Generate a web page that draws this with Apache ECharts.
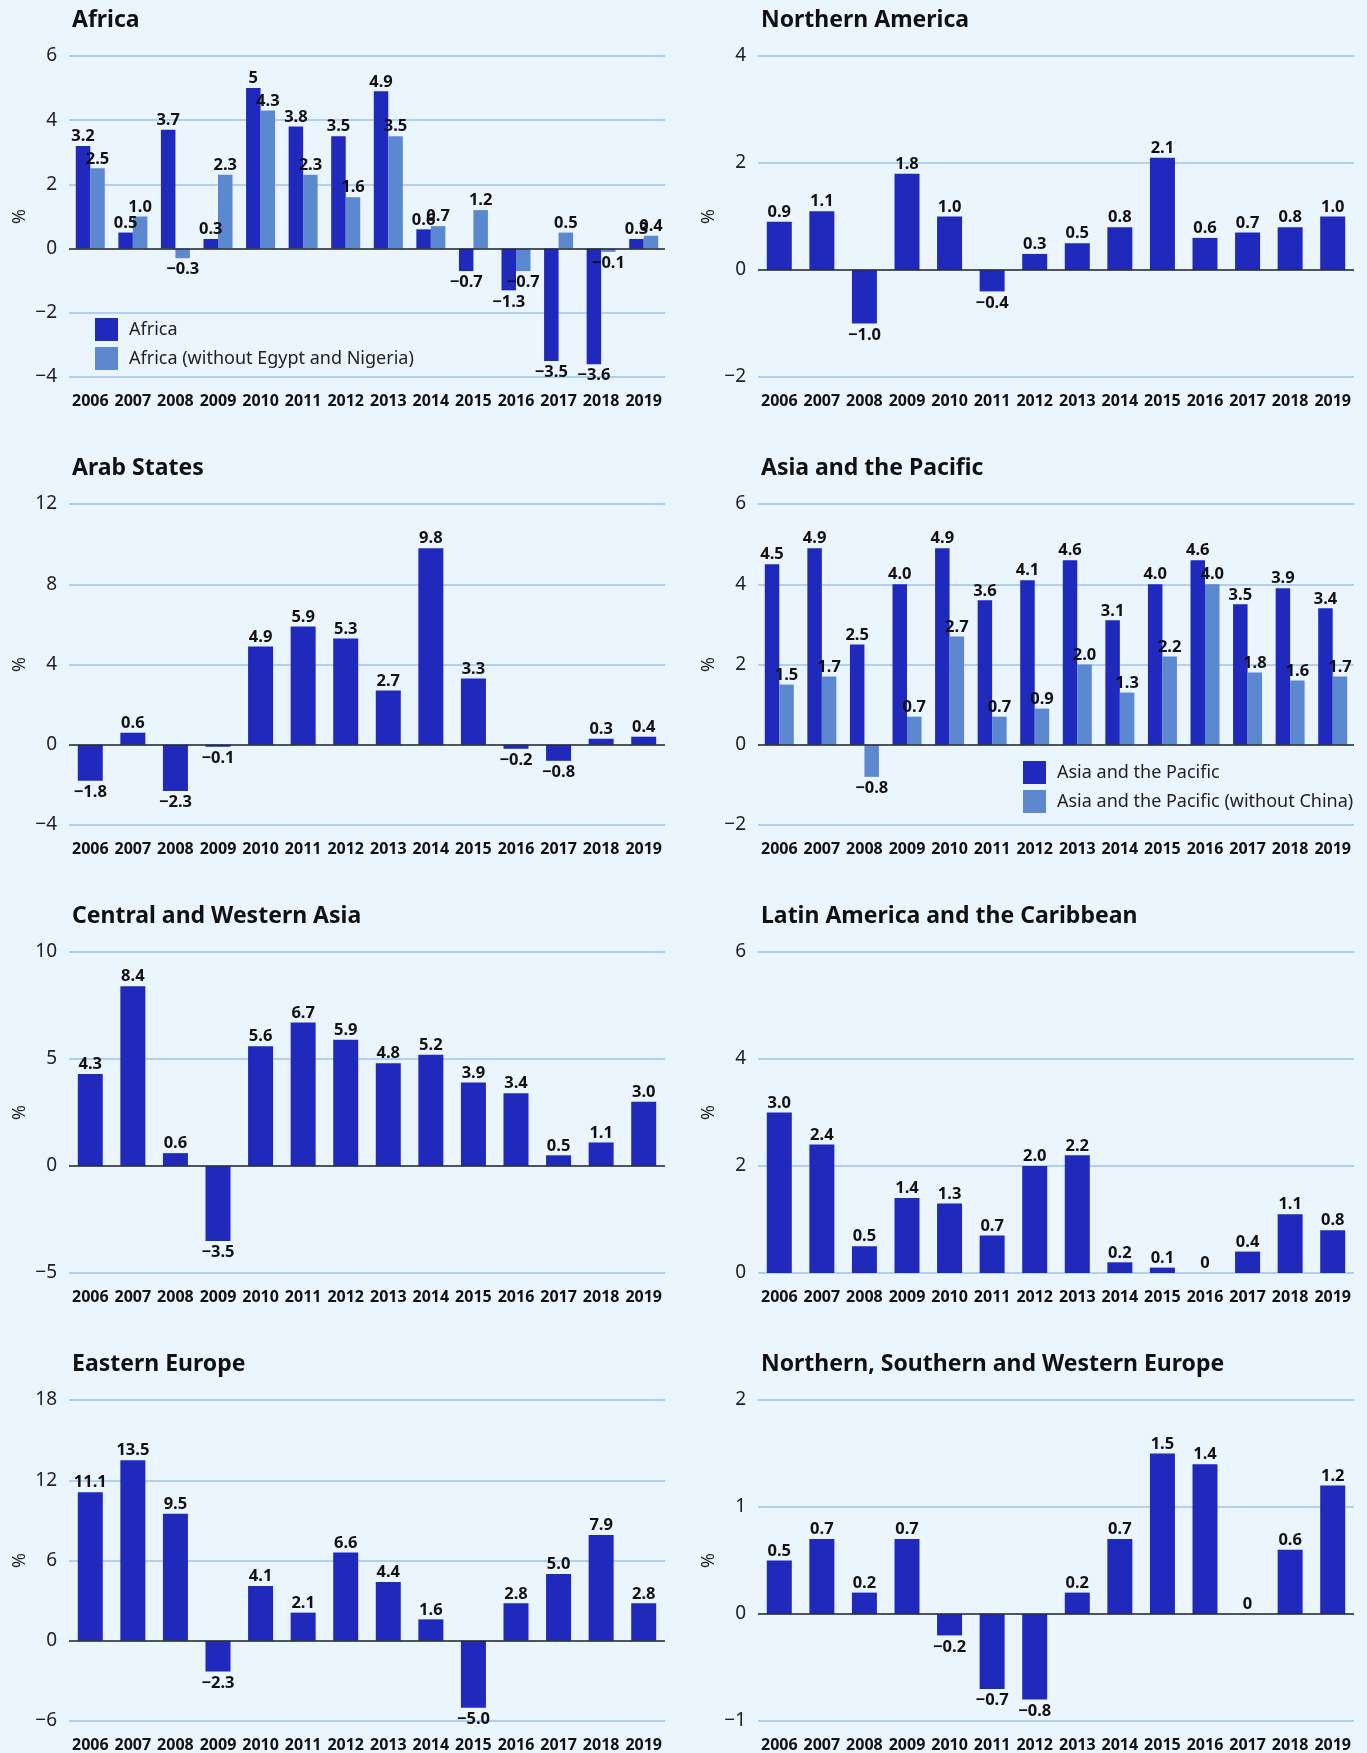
<!DOCTYPE html>
<html>
<head>
<meta charset="utf-8">
<title>Growth by region</title>
<script src="https://cdn.jsdelivr.net/npm/echarts@6/dist/echarts.min.js"></script>
<style>
  html, body { margin: 0; padding: 0; background: #ebf5fe; }
  #chart { width: 1367px; height: 1753px; }
</style>
</head>
<body>
<div id="chart"></div>
<script>
// years on every x axis
const years = ['2006', '2007', '2008', '2009', '2010', '2011', '2012', '2013', '2014', '2015', '2016', '2017', '2018', '2019']

// values kept as text so the labels read exactly like the source ("5", "0", "1.0")
const africa = ['3.2', '0.5', '3.7', '0.3', '5', '3.8', '3.5', '4.9', '0.6', '-0.7', '-1.3', '-3.5', '-3.6', '0.3']
const africaExEgyptNigeria = ['2.5', '1.0', '-0.3', '2.3', '4.3', '2.3', '1.6', '3.5', '0.7', '1.2', '-0.7', '0.5', '-0.1', '0.4']
const northernAmerica = ['0.9', '1.1', '-1.0', '1.8', '1.0', '-0.4', '0.3', '0.5', '0.8', '2.1', '0.6', '0.7', '0.8', '1.0']
const arabStates = ['-1.8', '0.6', '-2.3', '-0.1', '4.9', '5.9', '5.3', '2.7', '9.8', '3.3', '-0.2', '-0.8', '0.3', '0.4']
const asiaPacific = ['4.5', '4.9', '2.5', '4.0', '4.9', '3.6', '4.1', '4.6', '3.1', '4.0', '4.6', '3.5', '3.9', '3.4']
const asiaPacificExChina = ['1.5', '1.7', '-0.8', '0.7', '2.7', '0.7', '0.9', '2.0', '1.3', '2.2', '4.0', '1.8', '1.6', '1.7']
const centralWesternAsia = ['4.3', '8.4', '0.6', '-3.5', '5.6', '6.7', '5.9', '4.8', '5.2', '3.9', '3.4', '0.5', '1.1', '3.0']
const latinAmerica = ['3.0', '2.4', '0.5', '1.4', '1.3', '0.7', '2.0', '2.2', '0.2', '0.1', '0', '0.4', '1.1', '0.8']
const easternEurope = ['11.1', '13.5', '9.5', '-2.3', '4.1', '2.1', '6.6', '4.4', '1.6', '-5.0', '2.8', '5.0', '7.9', '2.8']
const nswEurope = ['0.5', '0.7', '0.2', '0.7', '-0.2', '-0.7', '-0.8', '0.2', '0.7', '1.5', '1.4', '0', '0.6', '1.2']

// y axis ranges: [min, max, interval]
const africaAxis = [-4, 6, 2]
const northernAmericaAxis = [-2, 4, 2]
const arabStatesAxis = [-4, 12, 4]
const asiaPacificAxis = [-2, 6, 2]
const centralWesternAsiaAxis = [-5, 10, 5]
const latinAmericaAxis = [0, 6, 2]
const easternEuropeAxis = [-6, 18, 6]
const nswEuropeAxis = [-1, 2, 1]

const DARK = '#1f2abd'
const LIGHT = '#5b88cf'
const FONT = 'Noto Sans'

const panels = [
  { title: 'Africa', axis: africaAxis, series: [['Africa', africa], ['Africa (without Egypt and Nigeria)', africaExEgyptNigeria]], legend: { left: 95, top: 318 } },
  { title: 'Northern America', axis: northernAmericaAxis, series: [['Northern America', northernAmerica]] },
  { title: 'Arab States', axis: arabStatesAxis, series: [['Arab States', arabStates]] },
  { title: 'Asia and the Pacific', axis: asiaPacificAxis, series: [['Asia and the Pacific', asiaPacific], ['Asia and the Pacific (without China)', asiaPacificExChina]], legend: { left: 1023, top: 761 } },
  { title: 'Central and Western Asia', axis: centralWesternAsiaAxis, series: [['Central and Western Asia', centralWesternAsia]] },
  { title: 'Latin America and the Caribbean', axis: latinAmericaAxis, series: [['Latin America and the Caribbean', latinAmerica]] },
  { title: 'Eastern Europe', axis: easternEuropeAxis, series: [['Eastern Europe', easternEurope]] },
  { title: 'Northern, Southern and Western Europe', axis: nswEuropeAxis, series: [['Northern, Southern and Western Europe', nswEurope]] },
]

const colLeft = [69, 758]
const rowTop = [56, 504, 952, 1400]
const gridW = 596
const gridH = 321

const minus = s => String(s).replace('-', '\u2212')

const option = {
  animation: false,
  backgroundColor: '#ebf5fe',
  title: [],
  grid: [],
  xAxis: [],
  yAxis: [],
  legend: [],
  series: [],
}

panels.forEach((p, i) => {
  const col = i % 2
  const row = Math.floor(i / 2)
  const left = colLeft[col]
  const top = rowTop[row]

  option.title.push({
    text: p.title,
    left: left + 3,
    top: top - 47,
    padding: 0,
    textStyle: { fontFamily: FONT, fontSize: 23, fontWeight: 'bold', color: '#111' },
  })

  option.grid.push({ left: left, top: top, width: gridW, height: gridH })

  option.xAxis.push({
    type: 'category',
    gridIndex: i,
    data: years,
    position: 'bottom',
    axisLine: { show: false, onZero: false },
    axisTick: { show: false },
    axisLabel: { margin: 16, fontFamily: FONT, fontSize: 16, fontWeight: 'bold', color: '#111', interval: 0 },
  })

  const [min, max, interval] = p.axis
  option.yAxis.push({
    type: 'value',
    gridIndex: i,
    min: min,
    max: max,
    interval: interval,
    name: '%',
    nameLocation: 'middle',
    nameGap: 40,
    nameTextStyle: { fontFamily: FONT, fontSize: 18, color: '#222' },
    axisLine: { show: false },
    axisTick: { show: false },
    splitLine: { lineStyle: { color: '#9dc3e8', width: 1.5 } },
    axisLabel: { margin: 12, fontFamily: FONT, fontSize: 19, color: '#222', formatter: v => minus(v) },
  })

  const twin = p.series.length > 1
  p.series.forEach(([name, values], k) => {
    const s = {
      type: 'bar',
      name: name,
      xAxisIndex: i,
      yAxisIndex: i,
      barWidth: twin ? 14.5 : 25,
      barGap: '0%',
      itemStyle: { color: k === 0 ? DARK : LIGHT },
      data: values.map(txt => {
        const v = parseFloat(txt)
        return {
          value: v,
          label: {
            show: true,
            position: v < 0 ? 'bottom' : 'top',
            distance: v < 0 ? 3 : 1,
            formatter: minus(txt),
            fontFamily: FONT,
            fontSize: 16.5,
            fontWeight: 'bold',
            color: '#111',
          },
        }
      }),
    }
    if (k === 0 && min < 0) {
      s.markLine = {
        silent: true,
        symbol: 'none',
        label: { show: false },
        lineStyle: { color: '#2b2b2b', width: 1.5, type: 'solid' },
        data: [{ yAxis: 0 }],
      }
    }
    option.series.push(s)
  })

  if (p.legend) {
    option.legend.push({
      left: p.legend.left,
      top: p.legend.top,
      padding: 0,
      orient: 'vertical',
      icon: 'rect',
      itemWidth: 23,
      itemHeight: 23,
      itemGap: 6,
      selectedMode: false,
      data: p.series.map(s => s[0]),
      textStyle: { fontFamily: FONT, fontSize: 18, color: '#222', padding: [0, 0, 0, 6] },
    })
  }
})

const chart = echarts.init(document.getElementById('chart'))
chart.setOption(option)
window.addEventListener('resize', () => chart.resize())
</script>
</body>
</html>
